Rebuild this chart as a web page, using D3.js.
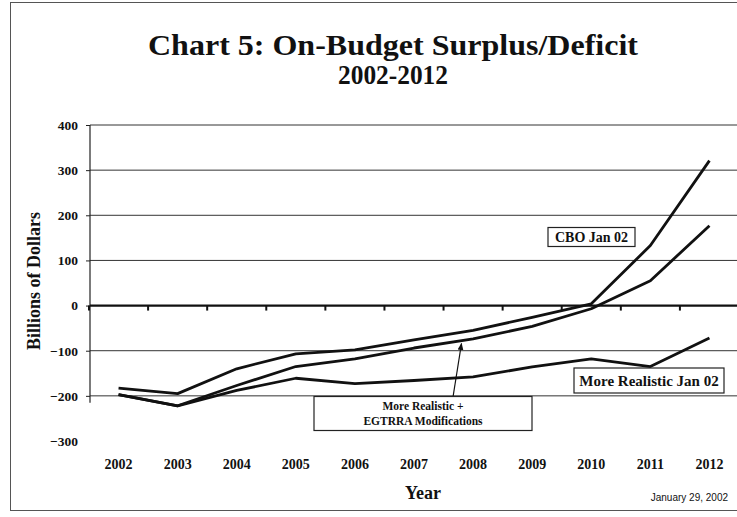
<!DOCTYPE html>
<html><head><meta charset="utf-8">
<script src="https://cdn.jsdelivr.net/npm/d3@7"></script>
<style>body{margin:0;background:#fff}svg{display:block}</style>
</head><body>
<svg id="c" width="737" height="517"></svg>
<script>
const years = ["2002","2003","2004","2005","2006","2007","2008","2009","2010","2011","2012"];
const cboJan02 = [-183,-195,-140,-107,-98,-76,-55,-26,4,133,321];
const moreRealisticEgtrra = [-197,-222,-177,-135,-118,-94,-74,-46,-7,55,177];
const moreRealisticJan02 = [-197,-222,-188,-161,-173,-166,-158,-136,-118,-135,-72];
const yTicks = [400,300,200,100,0,-100,-200,-300];
const gridTicks = [400,300,200,100,-100,-200];

const svg = d3.select("#c");
const serif = "'Liberation Serif','Times New Roman',serif";

// frame
svg.append("rect").attr("x",10.5).attr("y",2.5).attr("width",740).attr("height",508)
  .attr("fill","none").attr("stroke","#555").attr("stroke-width",1);

const x = d3.scaleBand().domain(years).range([89,739]);
const y = d3.scaleLinear().domain([-300,400]).range([441,125]);
const cx = d => x(d) + x.bandwidth()/2;

// gridlines
svg.append("g").selectAll("line").data(gridTicks).join("line")
  .attr("x1",90).attr("x2",737).attr("y1",d=>y(d)).attr("y2",d=>y(d))
  .attr("stroke","#333").attr("stroke-width",1);

// y axis
const yAxis = svg.append("g").attr("transform","translate(90,0)")
  .call(d3.axisLeft(y).tickValues(yTicks).tickSize(4).tickPadding(8).tickFormat(d3.format("d")));
yAxis.select(".domain").remove();
yAxis.selectAll(".tick line").attr("stroke","#222").filter(d=>d===-300).remove();
yAxis.selectAll(".tick text").attr("font-family",serif).attr("font-weight","bold")
  .attr("font-size",13.5).attr("fill","#111");
svg.append("line").attr("x1",90).attr("x2",90).attr("y1",y(400)).attr("y2",y(-215))
  .attr("stroke","#222").attr("stroke-width",1.2);

// zero line with ticks
const xAxis = svg.append("g").attr("transform",`translate(0,${y(0)})`)
  .call(d3.axisBottom(x).tickValues([]).tickSize(0));
xAxis.select(".domain").remove();
svg.append("line").attr("x1",90).attr("x2",737).attr("y1",y(0)).attr("y2",y(0))
  .attr("stroke","#111").attr("stroke-width",2.2);
svg.append("g").selectAll("line").data(years).join("line")
  .attr("x1",d=>x(d)).attr("x2",d=>x(d)).attr("y1",y(0)).attr("y2",y(0)+5)
  .attr("stroke","#111").attr("stroke-width",2);

// year labels
svg.append("g").selectAll("text").data(years).join("text")
  .attr("x",d=>cx(d)).attr("y",469).attr("text-anchor","middle")
  .attr("font-family",serif).attr("font-weight","bold").attr("font-size",14).attr("fill","#111")
  .text(d=>d);

// lines
const line = d3.line().x((d,i)=>cx(years[i])).y(d=>y(d));
[moreRealisticJan02, moreRealisticEgtrra, cboJan02].forEach(s=>{
  svg.append("path").datum(s).attr("d",line).attr("fill","none")
    .attr("stroke","#111").attr("stroke-width",2.8).attr("stroke-linejoin","round");
});

// labels with boxes
function boxLabel(lines, cxp, cyp, w, h, fs){
  const g = svg.append("g");
  g.append("rect").attr("x",cxp-w/2).attr("y",cyp-h/2).attr("width",w).attr("height",h)
    .attr("fill","#fff").attr("stroke","#222").attr("stroke-width",1.2);
  lines.forEach((t,i)=>{
    g.append("text").attr("x",cxp).attr("y",cyp + (i-(lines.length-1)/2)*15 + fs*0.35)
      .attr("text-anchor","middle").attr("font-family",serif).attr("font-weight","bold")
      .attr("font-size",fs).attr("fill","#111").text(t);
  });
}
boxLabel(["CBO Jan 02"], 591.5, 237, 87, 19, 14);
boxLabel(["More Realistic Jan 02"], 649, 380.5, 150, 25, 15);

// arrow
svg.append("defs").append("marker").attr("id","ah").attr("viewBox","0 0 10 10")
  .attr("refX",9).attr("refY",5).attr("markerWidth",6).attr("markerHeight",6).attr("orient","auto")
  .append("path").attr("d","M0,1 L10,5 L0,9 Z").attr("fill","#111");
svg.append("line").attr("x1",453).attr("y1",397).attr("x2",461.5).attr("y2",343.5)
  .attr("stroke","#111").attr("stroke-width",1.2).attr("marker-end","url(#ah)");
boxLabel(["More Realistic +","EGTRRA Modifications"], 423, 413.5, 218, 34, 11.5);

// title
svg.append("text").attr("x",393).attr("y",55).attr("text-anchor","middle")
  .attr("font-family",serif).attr("font-weight","bold").attr("font-size",30).attr("fill","#111")
  .attr("textLength",490).attr("lengthAdjust","spacingAndGlyphs")
  .text("Chart 5: On-Budget Surplus/Deficit");
svg.append("text").attr("x",393).attr("y",84).attr("text-anchor","middle")
  .attr("font-family",serif).attr("font-weight","bold").attr("font-size",27).attr("fill","#111")
  .attr("textLength",110).attr("lengthAdjust","spacingAndGlyphs")
  .text("2002-2012");

// axis titles
svg.append("text").attr("transform","translate(40,281) rotate(-90)").attr("text-anchor","middle")
  .attr("font-family",serif).attr("font-weight","bold").attr("font-size",18).attr("fill","#111")
  .text("Billions of Dollars");
svg.append("text").attr("x",423).attr("y",499).attr("text-anchor","middle")
  .attr("font-family",serif).attr("font-weight","bold").attr("font-size",18).attr("fill","#111")
  .text("Year");
svg.append("text").attr("x",728).attr("y",501).attr("text-anchor","end")
  .attr("font-family","'Liberation Sans',Arial,sans-serif").attr("font-size",10).attr("fill","#111")
  .text("January 29, 2002");
</script>
</body></html>
